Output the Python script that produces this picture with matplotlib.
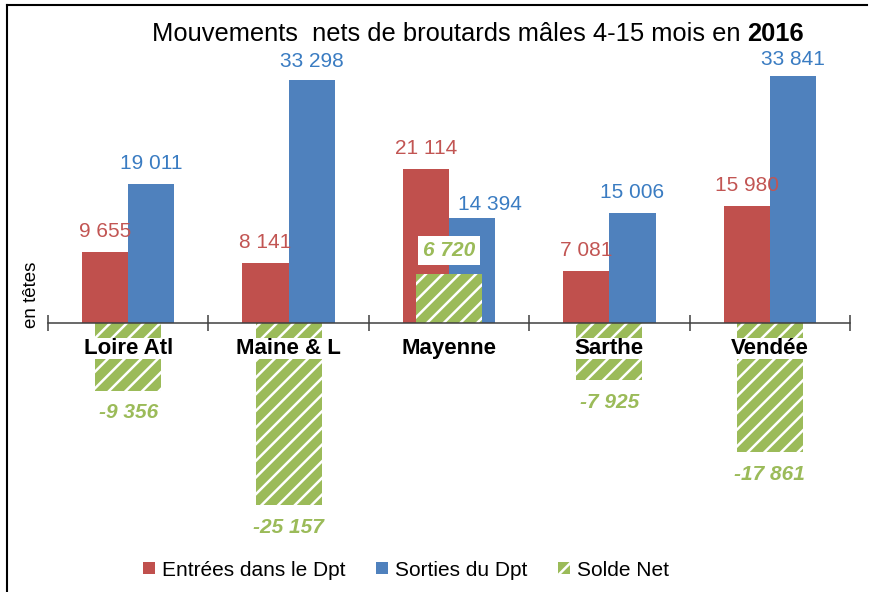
import matplotlib
matplotlib.use('Agg')
import matplotlib.pyplot as plt
from matplotlib.patches import Patch
from matplotlib.lines import Line2D
import numpy as np

plt.rcParams['font.family'] = ['Liberation Sans', 'DejaVu Sans']
plt.rcParams['hatch.linewidth'] = 1.8

categories = ['Loire Atl', 'Maine & L', 'Mayenne', 'Sarthe', 'Vendée']
entrees = [9655, 8141, 21114, 7081, 15980]
sorties = [19011, 33298, 14394, 15006, 33841]
solde = [-9356, -25157, 6720, -7925, -17861]
series_names = ['Entrées dans le Dpt', 'Sorties du Dpt', 'Solde Net']

RED = '#C0504D'
BLUE = '#4F81BD'
GREEN = '#9BBB59'
RED_TXT = '#C25553'
BLUE_TXT = '#3A7CC2'
GREEN_TXT = '#9BBB59'

W, H, DPI = 869, 592, 100
fig = plt.figure(figsize=(W / DPI, H / DPI), dpi=DPI)
ax = fig.add_axes([48 / W, 1 - 540.6 / H, 802 / W, 479.8 / H])
ax.set_xlim(-0.5, 4.5)
ax.set_ylim(-30000, 36000)

x = np.arange(len(categories))
bw = 0.2875
ax.bar(x - 0.144, entrees, bw, color=RED, zorder=2)
ax.bar(x + 0.144, sorties, bw, color=BLUE, zorder=2)
ax.bar(x, solde, 0.4125, facecolor=GREEN, edgecolor='white', hatch='//',
       linewidth=0, zorder=3)


def fmt(v):
    s = f"{abs(v):,}".replace(',', ' ')
    return s if v >= 0 else '-' + s


blue_offsets = {'Mayenne': (18, 13), 'Vendée': (0, 17), 'Maine & L': (0, 19)}

for i in range(len(categories)):
    ax.annotate(fmt(entrees[i]), (x[i] - 0.144, entrees[i]), xytext=(0, 21),
                textcoords='offset pixels', ha='center', va='center',
                fontsize=15, color=RED_TXT, zorder=6)
    dx, dy = blue_offsets.get(categories[i], (0, 21))
    ax.annotate(fmt(sorties[i]), (x[i] + 0.144, sorties[i]), xytext=(dx, dy),
                textcoords='offset pixels', ha='center', va='center',
                fontsize=15, color=BLUE_TXT, zorder=6)
    if solde[i] < 0:
        ax.annotate(fmt(solde[i]), (x[i], solde[i]), xytext=(0, -22),
                    textcoords='offset pixels', ha='center', va='center',
                    fontsize=15, color=GREEN_TXT, fontweight='bold',
                    fontstyle='italic', zorder=6)
    else:
        ax.annotate(fmt(solde[i]), (x[i], solde[i]), xytext=(0, 23),
                    textcoords='offset pixels', ha='center', va='center',
                    fontsize=15, color=GREEN_TXT, fontweight='bold',
                    fontstyle='italic', zorder=6,
                    bbox=dict(boxstyle='square,pad=0.25', facecolor='white',
                              edgecolor='none'))
    ax.annotate(categories[i], (x[i], 0), xytext=(0, -26),
                textcoords='offset pixels', ha='center', va='center',
                fontsize=16, fontweight='bold', color='black', zorder=7,
                bbox=dict(facecolor='white', edgecolor='none', pad=0))

for s in ['top', 'right', 'left']:
    ax.spines[s].set_visible(False)
ax.spines['bottom'].set_position(('data', 0))
ax.spines['bottom'].set_color('#404040')
ax.spines['bottom'].set_linewidth(1.1)
ax.spines['bottom'].set_zorder(4)
ax.set_xticks(np.arange(-0.5, len(categories), 1.0))
ax.tick_params(axis='x', direction='inout', length=11, width=1.1,
               color='#404040', labelbottom=False)
ax.set_yticks([])
ax.patch.set_visible(False)

fig.text(32 / W, 1 - 295 / H, 'en têtes', rotation=90, fontsize=13.5,
         ha='center', va='center')

# title
TY = 1 - 34 / H
t1 = fig.text(152 / W, TY, 'Mouvements  nets de broutards mâles 4-15 mois en',
              fontsize=18.4, ha='left', va='center')
renderer = fig.canvas.get_renderer()
bb = t1.get_window_extent(renderer)
fig.text((bb.x1 + 7) / W, TY, '2016', fontsize=18.4, fontweight='bold',
         ha='left', va='center')

handles = [Patch(facecolor=RED), Patch(facecolor=BLUE),
           Patch(facecolor=GREEN, edgecolor='white', hatch='//', linewidth=0)]
fig.legend(handles, series_names, loc='center', bbox_to_anchor=(406 / W, 1 - 570 / H),
           ncol=3, frameon=False, fontsize=15, handlelength=0.56, handleheight=0.56,
           handletextpad=0.33, columnspacing=1.5)

fig.add_artist(Line2D([7 / W, 7 / W], [0, 1 - 5 / H], transform=fig.transFigure,
                      color='black', lw=1.5))
fig.add_artist(Line2D([7 / W, 867 / W], [1 - 5 / H, 1 - 5 / H], transform=fig.transFigure,
                      color='black', lw=1.5))

fig.savefig('out.png', dpi=DPI)
